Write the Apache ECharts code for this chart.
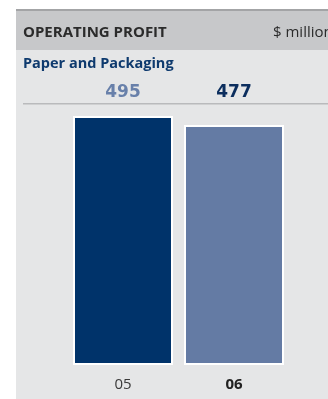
<!DOCTYPE html>
<html>
<head>
<meta charset="utf-8">
<script src="https://cdn.jsdelivr.net/npm/echarts@6/dist/echarts.min.js"></script>
<style>
  html, body { margin: 0; padding: 0; background: #ffffff; }
  #chart { width: 328px; height: 399px; }
</style>
</head>
<body>
<div id="chart"></div>
<script>
// Operating profit, Paper and Packaging ($ million)
const years = ['05', '06'];
const profit = [495, 477];
const barColors = ['#00336a', '#647ba4'];
const valueColors = ['#6880aa', '#0c2e5e'];
const yearWeights = ['normal', 'bold'];

const chart = echarts.init(document.getElementById('chart'), null, { renderer: 'canvas' });

chart.setOption({
  backgroundColor: '#ffffff',
  animation: false,
  graphic: [
    // panel background
    { type: 'rect', z: -10, shape: { x: 16, y: 11, width: 312, height: 388 }, style: { fill: '#e5e6e7' } },
    // header band
    { type: 'rect', z: -9, shape: { x: 16, y: 11, width: 312, height: 39 }, style: { fill: '#c7c8ca' } },
    // top rule
    { type: 'rect', z: -8, shape: { x: 16, y: 9, width: 312, height: 2 }, style: { fill: '#a3a4a6' } },
    // rule under the value row
    { type: 'rect', z: -8, shape: { x: 23, y: 103, width: 305, height: 1.5 }, style: { fill: '#b9babc' } },
    { type: 'text', left: 23, top: 25, style: { text: 'OPERATING PROFIT', fill: '#2b2b2b', font: 'bold 15px "Open Sans"' } },
    { type: 'text', left: 273, top: 25, style: { text: '$ million', fill: '#2b2b2b', font: '15px "Open Sans"' } },
    { type: 'text', left: 23, top: 56, style: { text: 'Paper and Packaging', fill: '#0e3a6e', font: 'bold 14.5px "Open Sans"' } }
  ],
  grid: { left: 67.5, width: 222, top: 113.5, bottom: 34 },
  xAxis: [
    {
      type: 'category',
      data: years,
      axisLine: { show: false },
      axisTick: { show: false },
      axisLabel: {
        margin: 12.5,
        formatter: (v, i) => '{y' + i + '|' + v + '}',
        rich: {
          y0: { fontFamily: 'Open Sans', fontSize: 15, fontWeight: yearWeights[0], color: '#3a3a3a' },
          y1: { fontFamily: 'Open Sans', fontSize: 15, fontWeight: yearWeights[1], color: '#222222' }
        }
      }
    },
    {
      type: 'category',
      position: 'top',
      data: profit.map(String),
      axisLine: { show: false },
      axisTick: { show: false },
      axisLabel: {
        margin: 12,
        formatter: (v, i) => '{v' + i + '|' + v + '}',
        rich: {
          v0: { fontFamily: 'DejaVu Sans', fontWeight: 'bold', fontSize: 17, color: valueColors[0] },
          v1: { fontFamily: 'DejaVu Sans', fontWeight: 'bold', fontSize: 17, color: valueColors[1] }
        }
      }
    }
  ],
  yAxis: {
    type: 'value',
    min: 0,
    max: 500,
    show: false,
    splitLine: { show: false }
  },
  series: [{
    type: 'bar',
    xAxisIndex: 0,
    barWidth: 100,
    data: profit.map((v, i) => ({
      value: v,
      itemStyle: { color: barColors[i], borderColor: '#ffffff', borderWidth: 2 }
    }))
  }]
});
</script>
</body>
</html>
